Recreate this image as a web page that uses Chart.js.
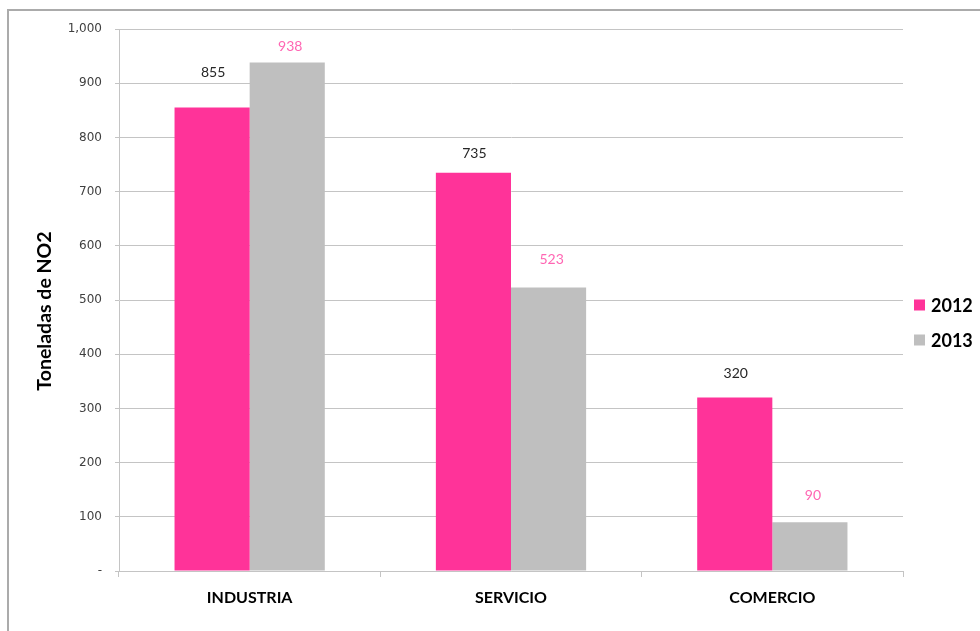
<!DOCTYPE html>
<html>
<head>
<meta charset="utf-8">
<script src="https://cdn.jsdelivr.net/npm/chart.js@4.4.1/dist/chart.umd.min.js"></script>
<style>
  html, body { margin: 0; padding: 0; background: #ffffff; }
  #wrap { position: relative; width: 980px; height: 631px; overflow: hidden; }
  #frame { position: absolute; left: 7px; top: 9px; width: 1100px; height: 800px;
           border: 2px solid #ababab; box-sizing: border-box; pointer-events: none; }
  canvas { position: absolute; left: 0; top: 0; }
</style>
</head>
<body>
<div id="wrap">
  <canvas id="chart" width="980" height="631"></canvas>
  <div id="frame"></div>
</div>
<script>
// Emissions by sector, tonnes of NO2
const categories = ['INDUSTRIA', 'SERVICIO', 'COMERCIO'];
const seriesNames = ['2012', '2013'];
const values2012 = [855, 735, 320];
const values2013 = [938, 523, 90];
const yTickLabels = ['-', '100', '200', '300', '400', '500', '600', '700', '800', '900', '1,000'];
const yTitle = 'Toneladas de NO2';

const PINK = '#FF3399';
const GREY = '#BFBFBF';
const GRID = '#C4C4C4';

// Value labels above each bar; vertical gap per dataset/bar
const valueLabels = {
  id: 'valueLabels',
  afterDatasetsDraw(chart, args, opts) {
    const ctx = chart.ctx;
    ctx.save();
    ctx.font = opts.font;
    ctx.textAlign = 'center';
    ctx.textBaseline = 'middle';
    chart.data.datasets.forEach((ds, di) => {
      const meta = chart.getDatasetMeta(di);
      ctx.fillStyle = opts.colors[di];
      meta.data.forEach((bar, i) => {
        ctx.fillText(String(ds.data[i]), bar.x + opts.dx[di], bar.y - opts.gaps[di][i]);
      });
    });
    ctx.restore();
  }
};

// Rotated value-axis title, placed left of the tick labels
const axisTitle = {
  id: 'axisTitle',
  afterDraw(chart, args, opts) {
    const ctx = chart.ctx;
    const area = chart.chartArea;
    ctx.save();
    ctx.translate(opts.x, (area.top + area.bottom) / 2 + opts.dy);
    ctx.rotate(-Math.PI / 2);
    ctx.font = opts.font;
    ctx.fillStyle = '#000000';
    ctx.textAlign = 'center';
    ctx.textBaseline = 'middle';
    ctx.fillText(opts.text, 0, 0);
    ctx.restore();
  }
};

// Legend drawn to the right of the plot area
const sideLegend = {
  id: 'sideLegend',
  afterDraw(chart, args, opts) {
    const ctx = chart.ctx;
    const area = chart.chartArea;
    const mid = (area.top + area.bottom) / 2;
    ctx.save();
    ctx.font = opts.font;
    ctx.textAlign = 'left';
    ctx.textBaseline = 'middle';
    chart.data.datasets.forEach((ds, di) => {
      const cy = mid + opts.firstOffset + di * opts.spacing;
      const x = area.right + opts.left;
      ctx.fillStyle = ds.backgroundColor;
      ctx.fillRect(x, cy - opts.box / 2, opts.box, opts.box);
      ctx.fillStyle = '#000000';
      ctx.fillText(ds.label, x + opts.box + opts.gap, cy + 1);
    });
    ctx.restore();
  }
};

new Chart(document.getElementById('chart'), {
  type: 'bar',
  data: {
    labels: categories,
    datasets: [
      { label: seriesNames[0], data: values2012, backgroundColor: PINK },
      { label: seriesNames[1], data: values2013, backgroundColor: GREY }
    ]
  },
  options: {
    responsive: false,
    animation: false,
    devicePixelRatio: 1,
    layout: { padding: { left: 0, right: 77, top: 29, bottom: 0 } },
    datasets: {
      bar: { categoryPercentage: 0.575, barPercentage: 1.0 }
    },
    scales: {
      x: {
        grid: { offset: true, drawOnChartArea: false, drawTicks: true, tickLength: 6, color: GRID },
        border: { color: GRID },
        ticks: {
          color: '#000000',
          padding: 11,
          font: { family: "Lato, sans-serif", size: 16, weight: 'bold' }
        },
        afterFit(scale) { scale.height = 60; }
      },
      y: {
        min: 0,
        max: 1000,
        grid: { color: GRID, tickLength: 4 },
        border: { color: GRID },
        ticks: {
          stepSize: 100,
          padding: 13,
          color: '#404040',
          font: { family: "'DejaVu Sans', sans-serif", size: 12 },
          callback: (v) => yTickLabels[Math.round(v / 100)]
        },
        afterFit(scale) { scale.width = 119; }
      }
    },
    plugins: {
      legend: { display: false },
      tooltip: { enabled: false },
      valueLabels: {
        font: "14px Lato, sans-serif",
        colors: ['#262626', '#FF66B3'],
        dx: [1, 3],
        gaps: [[35.6, 19.4, 23.7], [15.7, 27.7, 26.3]]
      },
      axisTitle: {
        text: yTitle,
        font: "bold 19.5px Lato, sans-serif",
        x: 45, dy: 11
      },
      sideLegend: {
        font: "bold 18px Lato, sans-serif",
        left: 11, box: 11, gap: 6, firstOffset: 5, spacing: 35
      }
    }
  },
  plugins: [valueLabels, axisTitle, sideLegend]
});
</script>
</body>
</html>
